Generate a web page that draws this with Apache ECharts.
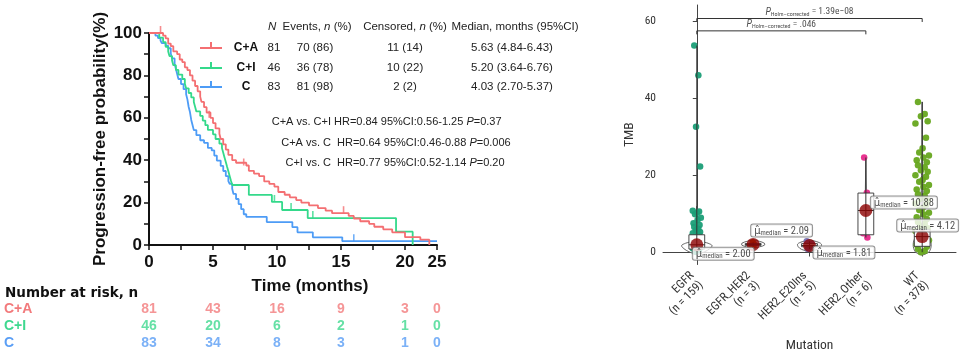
<!DOCTYPE html>
<html><head><meta charset="utf-8">
<script src="https://cdn.jsdelivr.net/npm/echarts@6/dist/echarts.min.js"></script>
<style>html,body{margin:0;padding:0;background:#fff}#c{width:960px;height:358px}</style>
</head><body><div id="c"></div>
<script>
// ===================== DATA: Kaplan-Meier panel =====================
const kmGroups = ['C+A', 'C+I', 'C'];
const kmCA = [[0,100],[1.1,98.8],[1.3,97.5],[1.5,95],[1.7,93.8],[1.9,91.3],[2.2,90],[2.4,87.5],[2.6,86.3],[2.8,83.8],[3.0,82.5],[3.2,80],[3.4,77.5],[3.6,75],[3.8,72.5],[4.0,70],[4.1,67.5],[4.3,65],[4.5,62.5],[4.8,60],[5.0,57.5],[5.2,55],[5.5,52.5],[5.6,50],[5.8,47.5],[6.0,45],[6.2,42.5],[6.5,40],[6.8,38.8],[7.6,37.5],[7.8,35],[8.2,33.7],[8.6,32.5],[9.0,30],[9.4,28.8],[9.8,27.5],[10.1,25],[10.6,23.7],[11.0,22.5],[11.5,21.2],[11.9,20],[12.5,18.7],[13.2,17.4],[13.8,16.2],[14.3,15],[15.6,13.7],[16.0,12.5],[16.5,11.2],[17.2,10],[17.6,8.6],[18.3,7.4],[19.0,6],[20.0,3.7],[21.2,2.5],[21.9,0]];
const kmCI = [[0,100],[0.8,97.8],[1.1,95.7],[1.3,93.5],[1.5,91.3],[1.6,89.1],[1.8,87],[1.9,84.8],[2.1,82.6],[2.3,80.4],[2.6,78.3],[2.8,76.1],[2.9,73.9],[3.1,71.7],[3.3,69.6],[3.5,67.4],[3.6,65.2],[3.7,63],[4.0,60.9],[4.2,58.7],[4.4,56.5],[4.6,54.3],[5.0,52.2],[5.2,50],[5.5,47.8],[5.7,45.7],[5.8,43.5],[5.9,41.3],[6.0,39.1],[6.1,36.9],[6.2,34.8],[6.3,32.6],[6.4,30.4],[6.5,28.3],[7.8,23.6],[9.6,20.3],[10.4,16.5],[12.4,12.7],[19.3,6.3],[20.6,0]];
const kmC = [[0,100],[0.5,98.8],[0.7,97.6],[0.9,96.4],[1.0,95.2],[1.3,94],[1.5,92.8],[1.7,90.4],[1.8,88],[2.0,85.5],[2.1,83.1],[2.2,80.7],[2.3,78.3],[2.5,75.9],[2.7,73.5],[2.9,71.1],[3.0,68.7],[3.1,65.1],[3.2,62.7],[3.3,59],[3.4,56.6],[3.5,54.2],[3.7,51.8],[4.0,49.4],[4.3,48.2],[4.6,45.8],[4.9,44.6],[5.1,42.2],[5.3,39.8],[5.6,37.3],[5.8,34.9],[6.0,32.5],[6.2,30.1],[6.3,28.9],[6.5,26.5],[6.6,24.1],[6.8,21.7],[7.0,19.3],[7.2,16.9],[7.4,14.5],[7.6,13.3],[9.2,10.8],[11.2,8.4],[11.6,6],[12.8,3.6],[15.1,1.8],[22.5,1.8]];
const censorCA = [[0.9,100],[4.7,60],[7.4,37.5],[15.2,15]];
const censorCI = [[9.8,20.3],[11.1,16.5],[12.8,12.7]];
const censorC = [[16.0,1.8]];
const kmN = [81, 46, 83];
const kmEvents = ['70 (86)', '36 (78)', '81 (98)'];
const kmCensored = ['11 (14)', '10 (22)', '2 (2)'];
const kmMedian = ['5.63 (4.84-6.43)', '5.20 (3.64-6.76)', '4.03 (2.70-5.37)'];
const hrCompare = ['C+A vs. C+I', 'C+A vs. C', 'C+I vs. C'];
const hrText = ['HR=0.84 95%CI:0.56-1.25 ', 'HR=0.64 95%CI:0.46-0.88 ', 'HR=0.77 95%CI:0.52-1.14 '];
const hrP = ['=0.37', '=0.006', '=0.20'];
const riskTimes = [0, 5, 10, 15, 20, 25];
const riskCA = [81, 43, 16, 9, 3, 0];
const riskCI = [46, 20, 6, 2, 1, 0];
const riskC = [83, 34, 8, 3, 1, 0];
const kmYTicks = [0, 20, 40, 60, 80, 100];
const kmXTickLabels = ['0', '5', '10', '15', '20', '25'];

// ===================== DATA: TMB panel =====================
const mutCats = ['EGFR', 'EGFR_HER2', 'HER2_E20Ins', 'HER2_Other', 'WT'];
const mutN = [159, 3, 5, 6, 378];
const mutMedians = [2.00, 2.09, 1.81, 10.88, 4.12];
const tmbEGFR = [53.6,45.9,32.6,22.3,10.8,10.6,10.3,9.9,9.0,8.4,7.6,7.1,6.6,6.1,5.8,5.3,5.0,4.5,4.2,3.8,3.5,3.1,2.9,2.6,2.2,2.0,1.7,1.3,1.1,0.8,0.5,0.2];
const tmbEGFR_HER2 = [1.6, 2.09, 2.6];
const tmbHER2_E20Ins = [0.9, 1.5, 1.81, 2.3, 2.9];
const tmbHER2_Other = [24.6, 15.5, 12.0, 9.8, 5.0, 3.9];
const tmbWT = [39.0,35.9,35.3,34.0,33.4,29.7,27.0,25.9,25.1,24.6,23.9,23.4,22.6,22.1,21.3,20.9,20.0,19.6,18.8,18.3,17.5,17.0,16.3,15.9,15.1,14.7,13.9,13.4,12.7,12.3,11.5,11.0,10.3,9.9,9.1,8.7,7.9,7.5,6.8,6.3,5.6,5.1,4.4,3.9,3.2,2.7,2.0,1.5,0.9,0.4,0.1];
const tmbBoxes = [ // [min, q1, median, q3, max]
  [0.2, 0.9, 2.00, 4.6, 53.6],
  [1.6, 1.85, 2.09, 2.35, 2.6],
  [0.9, 1.5, 1.81, 2.3, 2.9],
  [3.9, 4.6, 10.88, 15.4, 24.6],
  [0.1, 1.6, 4.12, 6.0, 39.0]
];
const violinEGFR = [[-0.6,0],[0.2,0.14],[1.0,0.23],[1.8,0.27],[2.4,0.2],[3.0,0.08],[4.0,0.06],[5.5,0.05],[7.0,0.02],[9,0.005],[12,0]];
const violinEGFR_HER2 = [[1.1,0],[1.5,0.12],[1.9,0.2],[2.4,0.2],[2.9,0.11],[3.3,0]];
const violinHER2_E20Ins = [[0.2,0],[0.8,0.14],[1.5,0.2],[2.2,0.21],[2.8,0.13],[3.3,0]];
const violinHER2_Other = [[3.6,0],[8,0.01],[14,0.01],[24.6,0]];
const violinWT = [[-0.7,0],[0,0.11],[1,0.15],[2,0.16],[3,0.15],[4,0.12],[5,0.08],[6.5,0.05],[9,0.03],[14,0.02],[22,0.01],[39,0]];
const sigBrackets = [
  {from: 0, to: 4, y: 60.6, value: '1.39e\u221208'},
  {from: 0, to: 3, y: 57.4, value: '.046'}
];

// ===================== STYLE =====================
const LF = '"Liberation Sans", Arial, sans-serif';
const RF = '"Liberation Sans Narrow", "Roboto Condensed", "DejaVu Sans Condensed", Roboto, sans-serif';
const kmColors = ['#F46F72', '#34D98B', '#4D9CF6'];
const riskColors = ['#F27A7C', '#3ED88F', '#5A9EF5'];
const mutColors = ['#1B9E77', '#D95F02', '#7570B3', '#E7298A', '#66A61E'];
const jitterPattern = [-0.5, 0.3, -0.15, 0.65, -0.8, 0.45, 0.05, -0.35, 0.8, 0.15, -0.65, 0.55];
const jitterWidth = [0.09, 0.05, 0.06, 0.06, 0.15];
const boxHalf = 0.14;
const KM_XEND = 22.5; // right end of the (compressed) time axis, labelled "25" in the reference
const riskPos = t => Math.min(t, KM_XEND);
const CLEAR = 'rgba(0,0,0,0)';

const chart = echarts.init(document.getElementById('c'), null, {renderer: 'canvas'});

// ---------- KM series ----------
const kmData = [kmCA, kmCI, kmC];
const censorData = [censorCA, censorCI, censorC];
const riskData = [riskCA, riskCI, riskC];
const series = [];
kmGroups.forEach((g, i) => {
  series.push({type: 'line', name: g, xAxisIndex: 0, yAxisIndex: 0, data: kmData[i], step: 'end',
    symbol: 'none', lineStyle: {color: kmColors[i], width: 1.8}, z: 3 - i, animation: false});
  series.push({type: 'scatter', xAxisIndex: 0, yAxisIndex: 0, data: censorData[i], symbol: 'rect',
    symbolSize: [1.6, 7], symbolOffset: [0, -3.5], itemStyle: {color: kmColors[i]}, z: 4, animation: false});
  series.push({type: 'scatter', xAxisIndex: 2, yAxisIndex: 2,
    data: riskTimes.map((t, k) => [riskPos(t), i, riskData[i][k]]),
    symbolSize: 1, itemStyle: {color: CLEAR}, animation: false,
    label: {show: true, position: 'inside', formatter: p => p.value[2], color: riskColors[i],
      fontFamily: LF, fontWeight: 'bold', fontSize: 14}});
});

// ---------- TMB series ----------
const tmbValues = [tmbEGFR, tmbEGFR_HER2, tmbHER2_E20Ins, tmbHER2_Other, tmbWT];
const violins = [violinEGFR, violinEGFR_HER2, violinHER2_E20Ins, violinHER2_Other, violinWT];
series.push({type: 'custom', xAxisIndex: 1, yAxisIndex: 1, data: mutCats.map((c, i) => [i]), z: 2, animation: false,
  renderItem: (params, api) => {
    const i = api.value(0); const prof = violins[i];
    const right = prof.map(([y, w]) => api.coord([i + w, y]));
    const left = prof.slice().reverse().map(([y, w]) => api.coord([i - w, y]));
    return {type: 'polygon', shape: {points: right.concat(left), smooth: 0.35},
      style: {fill: '#fff', stroke: '#555', lineWidth: 0.9}};
  }});
tmbValues.forEach((vals, i) => {
  series.push({type: 'scatter', xAxisIndex: 1, yAxisIndex: 1, z: 3, animation: false,
    data: vals.map((v, k) => [i + jitterPattern[k % jitterPattern.length] * jitterWidth[i], v]),
    symbolSize: 6.5, itemStyle: {color: mutColors[i], opacity: 0.95}});
});
series.push({type: 'custom', xAxisIndex: 1, yAxisIndex: 1, data: tmbBoxes.map((b, i) => [i].concat(b)), z: 4, animation: false,
  renderItem: (params, api) => {
    const i = api.value(0);
    const [mn, q1, md, q3, mx] = [1, 2, 3, 4, 5].map(k => api.value(k));
    const pMin = api.coord([i, mn]), pMax = api.coord([i, mx]);
    const a = api.coord([i - boxHalf, q3]), b = api.coord([i + boxHalf, q1]);
    const m1 = api.coord([i - boxHalf, md]), m2 = api.coord([i + boxHalf, md]);
    return {type: 'group', children: [
      {type: 'line', shape: {x1: pMin[0], y1: pMin[1], x2: pMax[0], y2: pMax[1]}, style: {stroke: '#333', lineWidth: 1}},
      {type: 'rect', shape: {x: a[0], y: a[1], width: b[0] - a[0], height: b[1] - a[1]}, style: {fill: '#fff', stroke: '#333', lineWidth: 0.9}},
      {type: 'line', shape: {x1: m1[0], y1: m1[1], x2: m2[0], y2: m2[1]}, style: {stroke: '#333', lineWidth: 1}},
      {type: 'line', shape: {x1: pMin[0], y1: b[1], x2: pMax[0], y2: a[1]}, style: {stroke: '#333', lineWidth: 1}}
    ]};
  }});
const labelOffsets = [[-4, 3], [-2, -20], [4, 1], [5, -14], [-25, -17]];
const dotSize = 13;
series.push({type: 'scatter', xAxisIndex: 1, yAxisIndex: 1, z: 6, animation: false,
  symbolSize: dotSize, itemStyle: {color: '#8B0000'},
  data: mutMedians.map((m, i) => ({value: [i, m],
    label: {show: true, position: [labelOffsets[i][0] + dotSize / 2, labelOffsets[i][1] + dotSize / 2],
      formatter: '{mu|\u03BC\u0302}{sub|median}{t| = ' + m.toFixed(2) + '}',
      backgroundColor: '#fff', borderColor: '#777', borderWidth: 1, borderRadius: 2, padding: [1, 3, 0, 3],
      rich: {mu: {fontFamily: '"DejaVu Sans", sans-serif', fontSize: 10, color: '#222'},
        sub: {fontFamily: RF, fontSize: 7, color: '#222', verticalAlign: 'bottom', padding: [4, 0, 0, 0]},
        t: {fontFamily: RF, fontSize: 10.5, color: '#222'}}}}))
});
sigBrackets.forEach(s => {
  series.push({type: 'line', xAxisIndex: 1, yAxisIndex: 1, symbol: 'none', z: 5, animation: false,
    data: [[s.from, s.y - 0.9], [s.from, s.y], [s.to, s.y], [s.to, s.y - 0.9]],
    lineStyle: {color: '#333', width: 1}});
  series.push({type: 'scatter', xAxisIndex: 1, yAxisIndex: 1, symbolSize: 1, itemStyle: {color: CLEAR}, z: 5, animation: false,
    data: [[(s.from + s.to) / 2, s.y]],
    label: {show: true, position: 'top', distance: 1,
      formatter: '{p|P}{s|Holm\u2013corrected}{t| = ' + s.value + '}',
      rich: {p: {fontFamily: RF, fontStyle: 'italic', fontSize: 10, color: '#222'},
        s: {fontFamily: RF, fontSize: 6, color: '#222', verticalAlign: 'bottom', padding: [3, 0, 0, 0]},
        t: {fontFamily: RF, fontSize: 9.5, color: '#222'}}}});
});

// ---------- graphic: KM table / legend / HR ----------
const rowY = [48, 68, 87];
const graphic = [];
const txt = (text, x, y, align, extra) => ({type: 'text', silent: true,
  style: Object.assign({text, x, y, align, verticalAlign: 'middle', fontFamily: LF, fontSize: 11.5, fill: '#222'}, extra || {})});
graphic.push({type: 'text', silent: true, style: {x: 268, y: 27, align: 'left', verticalAlign: 'middle',
  text: '{i|N}', rich: {i: {fontFamily: LF, fontStyle: 'italic', fontSize: 11.5, fill: '#222'}}}});
graphic.push({type: 'text', silent: true, style: {x: 317, y: 27, align: 'center', verticalAlign: 'middle',
  text: '{a|Events, }{i|n}{a| (%)}', rich: {a: {fontFamily: LF, fontSize: 11.5, fill: '#222'}, i: {fontFamily: LF, fontStyle: 'italic', fontSize: 11.5, fill: '#222'}}}});
graphic.push({type: 'text', silent: true, style: {x: 405, y: 27, align: 'center', verticalAlign: 'middle',
  text: '{a|Censored, }{i|n}{a| (%)}', rich: {a: {fontFamily: LF, fontSize: 11.5, fill: '#222'}, i: {fontFamily: LF, fontStyle: 'italic', fontSize: 11.5, fill: '#222'}}}});
graphic.push(txt('Median, months (95%CI)', 515, 27, 'center'));
kmGroups.forEach((g, i) => {
  const y = rowY[i];
  graphic.push({type: 'line', silent: true, shape: {x1: 200, y1: y, x2: 222, y2: y}, style: {stroke: kmColors[i], lineWidth: 2}});
  graphic.push({type: 'line', silent: true, shape: {x1: 211, y1: y - 6, x2: 211, y2: y}, style: {stroke: kmColors[i], lineWidth: 2}});
  graphic.push(txt(g, 246, y, 'center', {fontWeight: 'bold', fontSize: 12, fill: '#111'}));
  graphic.push(txt(String(kmN[i]), 274, y, 'center'));
  graphic.push(txt(kmEvents[i], 315, y, 'center'));
  graphic.push(txt(kmCensored[i], 405, y, 'center'));
  graphic.push(txt(kmMedian[i], 512, y, 'center'));
});
const hrY = [122, 143, 163];
hrCompare.forEach((c, i) => {
  graphic.push(txt(c, 331, hrY[i], 'right', {fontSize: 11}));
  graphic.push({type: 'text', silent: true, style: {x: i === 0 ? 334 : 337, y: hrY[i], align: 'left', verticalAlign: 'middle',
    text: '{a|' + hrText[i] + '}{i|P}{a|' + hrP[i] + '}',
    rich: {a: {fontFamily: LF, fontSize: 11, fill: '#222'}, i: {fontFamily: LF, fontStyle: 'italic', fontSize: 11, fill: '#222'}}}});
});
graphic.push(txt('Number at risk, n', 5, 293, 'left', {fontFamily: '"DejaVu Sans", sans-serif', fontWeight: 'bold', fontSize: 13.5, fill: '#111'}));

const option = {
  backgroundColor: '#fff',
  animation: false,
  grid: [
    {left: 149, top: 33, width: 288, height: 212},
    {left: 663, top: 5, width: 293, height: 260},
    {left: 149, top: 300, width: 288, height: 52}
  ],
  xAxis: [
    {gridIndex: 0, type: 'value', min: 0, max: KM_XEND, interval: 2.5,
      name: 'Time (months)', nameLocation: 'middle', nameGap: 33,
      nameTextStyle: {fontFamily: LF, fontWeight: 'bold', fontSize: 17, color: '#111', padding: [0, 0, 0, 34]},
      axisLine: {lineStyle: {color: '#111', width: 2}},
      axisTick: {length: 5, lineStyle: {color: '#111', width: 1.5}},
      axisLabel: {margin: 9, fontFamily: LF, fontWeight: 'bold', fontSize: 17, color: '#111',
        formatter: v => (Math.abs(v - KM_XEND) < 1e-6 ? kmXTickLabels[5] : (v % 5 === 0 ? kmXTickLabels[v / 5] : ''))},
      splitLine: {show: false}},
    {gridIndex: 1, type: 'value', min: -0.6, max: 4.6,
      name: 'Mutation', nameLocation: 'middle', nameGap: 72,
      nameTextStyle: {fontFamily: RF, fontSize: 13.5, color: '#333'},
      axisLine: {lineStyle: {color: '#444', width: 1}},
      axisTick: {customValues: [0, 1, 2, 3, 4], length: 4, lineStyle: {color: '#444'}},
      axisLabel: {customValues: [0, 1, 2, 3, 4], rotate: 45, margin: 14, fontFamily: RF, fontSize: 12, color: '#333', lineHeight: 13,
        formatter: v => mutCats[v] + '\n(n = ' + mutN[v] + ')'},
      splitLine: {show: false}},
    {gridIndex: 2, type: 'value', min: 0, max: KM_XEND, show: false}
  ],
  yAxis: [
    {gridIndex: 0, type: 'value', min: 0, max: 100, interval: 10,
      name: 'Progression-free probability(%)', nameLocation: 'middle', nameGap: 40,
      nameTextStyle: {fontFamily: LF, fontWeight: 'bold', fontSize: 17, color: '#111'},
      axisLine: {show: true, lineStyle: {color: '#111', width: 2}},
      axisTick: {show: true, length: 5, lineStyle: {color: '#111', width: 1.5}},
      axisLabel: {margin: 7, fontFamily: LF, fontWeight: 'bold', fontSize: 17, color: '#111',
        formatter: v => (kmYTicks.indexOf(v) >= 0 ? String(v) : '')},
      splitLine: {show: false}},
    {gridIndex: 1, type: 'value', min: -3.1, max: 64.1,
      name: 'TMB', nameLocation: 'middle', nameGap: 26,
      nameTextStyle: {fontFamily: RF, fontSize: 13.5, color: '#333'},
      axisLine: {show: true, lineStyle: {color: '#444', width: 1}},
      axisTick: {show: true, customValues: [0, 20, 40, 60], length: 4, lineStyle: {color: '#444'}},
      axisLabel: {customValues: [0, 20, 40, 60], margin: 7, fontFamily: RF, fontSize: 11.5, color: '#333'},
      splitLine: {show: false}},
    {gridIndex: 2, type: 'category', data: kmGroups, inverse: true,
      axisLine: {show: false}, axisTick: {show: false}, splitLine: {show: false},
      axisLabel: {interval: 0, align: 'left', margin: 145, fontFamily: LF, fontWeight: 'bold', fontSize: 14,
        formatter: v => '{g' + kmGroups.indexOf(v) + '|' + v + '}',
        rich: {g0: {color: riskColors[0], fontFamily: LF, fontWeight: 'bold', fontSize: 14},
          g1: {color: riskColors[1], fontFamily: LF, fontWeight: 'bold', fontSize: 14},
          g2: {color: riskColors[2], fontFamily: LF, fontWeight: 'bold', fontSize: 14}}}}
  ],
  graphic: graphic,
  series: series
};
chart.setOption(option);
</script>
</body></html>
